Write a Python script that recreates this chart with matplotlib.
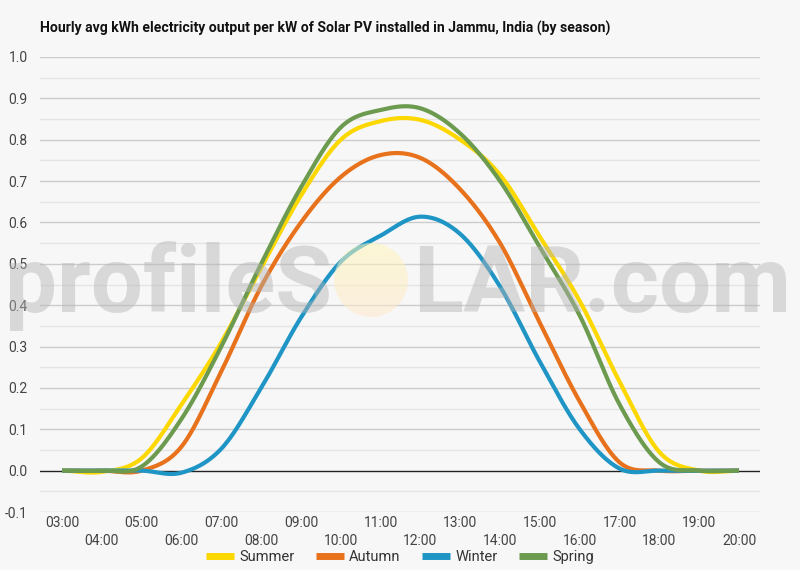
import numpy as np
import matplotlib
matplotlib.use("Agg")
import matplotlib.pyplot as plt
from matplotlib.patches import Circle

hours = list(range(3, 21))
hour_labels = ["%02d:00" % h for h in hours]

summer = [0.0, -0.003, 0.03, 0.16, 0.31, 0.49, 0.665, 0.80, 0.845, 0.848, 0.80, 0.715, 0.565, 0.41, 0.215, 0.045, 0.0, 0.0]
autumn = [0.0, 0.0, 0.0, 0.058, 0.24, 0.445, 0.60, 0.71, 0.763, 0.756, 0.68, 0.55, 0.357, 0.167, 0.02, 0.0, 0.0, 0.0]
winter = [0.0, 0.0, 0.0, -0.005, 0.053, 0.20, 0.37, 0.505, 0.568, 0.614, 0.572, 0.445, 0.263, 0.10, 0.005, 0.0, 0.0, 0.0]
spring = [0.0, 0.0, 0.01, 0.125, 0.30, 0.50, 0.685, 0.83, 0.872, 0.876, 0.815, 0.70, 0.54, 0.375, 0.16, 0.02, 0.0, 0.0]

series = [("Summer", summer, "#fcd700"),
          ("Autumn", autumn, "#e8711c"),
          ("Winter", winter, "#1f95c6"),
          ("Spring", spring, "#6c9a4f")]

title = "Hourly avg kWh electricity output per kW of Solar PV installed in Jammu, India (by season)"
bg = "#f7f7f7"


def spline(x, y, n=30):
	# catmull-rom through the hourly points
	x = np.asarray(x, float)
	y = np.asarray(y, float)
	xp = np.concatenate([[2 * x[0] - x[1]], x, [2 * x[-1] - x[-2]]])
	yp = np.concatenate([[y[0]], y, [y[-1]]])
	xs, ys = [], []
	for i in range(1, len(xp) - 2):
		t = np.linspace(0, 1, n, endpoint=False)
		p0, p1, p2, p3 = yp[i - 1], yp[i], yp[i + 1], yp[i + 2]
		yy = 0.5 * ((2 * p1) + (-p0 + p2) * t + (2 * p0 - 5 * p1 + 4 * p2 - p3) * t ** 2 + (-p0 + 3 * p1 - 3 * p2 + p3) * t ** 3)
		xs.extend(xp[i] + (xp[i + 1] - xp[i]) * t)
		ys.extend(yy)
	xs.append(x[-1])
	ys.append(y[-1])
	return np.array(xs), np.array(ys)


def fit_width(txt, px):
	# shrink/grow font so the text is px pixels wide
	r = fig.canvas.get_renderer()
	w = txt.get_window_extent(renderer=r).width
	txt.set_fontsize(txt.get_fontsize() * px / w)


fig = plt.figure(figsize=(8, 5.7), dpi=100, facecolor=bg)
ax = fig.add_axes([0.05, 1 - 512 / 570.0, 0.9, 455 / 570.0])
ax.set_facecolor(bg)

for name, vals, col in series:
	sx, sy = spline(hours, vals)
	ax.plot(sx, sy, color=col, lw=3, label=name, solid_capstyle="butt", zorder=3)

ax.set_xlim(2.447, 20.527)
ax.set_ylim(-0.1, 1.0)

yt = np.arange(-0.1, 1.001, 0.1)
ax.set_yticks(yt)
ax.set_yticklabels(["%.1f" % v for v in yt])
for v in yt:
	if abs(v) < 1e-9:
		ax.axhline(v, color="#222222", lw=1, zorder=2)
	else:
		ax.axhline(v, color="#cccccc", lw=1, zorder=1)
for v in np.arange(-0.05, 1.0, 0.1):
	ax.axhline(v, color="#e4e4e4", lw=1, zorder=1)

ax.set_xticks(hours[::2])
ax.set_xticklabels(hour_labels[::2])
ax.set_xticks(hours[1::2], minor=True)
ax.set_xticklabels(hour_labels[1::2], minor=True)
ax.tick_params(axis="x", which="major", length=0, pad=3, labelsize=10, labelcolor="#444444")
ax.tick_params(axis="x", which="minor", length=0, pad=16, labelsize=10, labelcolor="#444444")
ax.tick_params(axis="y", which="both", length=0, pad=9, labelsize=10, labelcolor="#444444")
for lab in ax.get_xticklabels(which="both") + ax.get_yticklabels():
	lab.set_family(["Roboto", "DejaVu Sans"])
for sp in ax.spines.values():
	sp.set_visible(False)

# watermark on top of the lines
w1 = fig.text(5 / 800.0, 1 - 312 / 570.0, "profileS", ha="left", va="baseline",
	fontsize=60, fontweight="bold", family=["Roboto", "DejaVu Sans"],
	color="#b4b4b4", alpha=0.45, zorder=10)
w2 = fig.text(413 / 800.0, 1 - 312 / 570.0, "LAR.com", ha="left", va="baseline",
	fontsize=60, fontweight="bold", family=["Roboto", "DejaVu Sans"],
	color="#b4b4b4", alpha=0.45, zorder=10)
fit_width(w1, 327)
fit_width(w2, 378)
wax = fig.add_axes([0, 0, 1, 1], facecolor="none")
wax.set_xlim(0, 800)
wax.set_ylim(570, 0)
wax.axis("off")
grad = np.linspace(0, 1, 100)
cols = np.zeros((100, 1, 4))
cols[:, 0, 0] = 1.0
cols[:, 0, 1] = 0.97 - 0.06 * grad
cols[:, 0, 2] = 0.72 + 0.08 * grad
cols[:, 0, 3] = 0.55
im = wax.imshow(cols, extent=(334, 408, 317, 243), aspect="auto", zorder=5)
circ = Circle((371, 280), 37, transform=wax.transData, facecolor="none", edgecolor="none")
wax.add_patch(circ)
im.set_clip_path(circ)

tt = fig.text(40 / 800.0, 1 - 28 / 570.0, title, ha="left", va="center", fontsize=10,
	fontweight="bold", family=["Roboto", "DejaVu Sans"], color="#111111")
fit_width(tt, 568)

leg = fig.legend(loc="center", bbox_to_anchor=(0.5, 1 - 557 / 570.0), ncol=4, frameon=False,
	handlelength=1.9, columnspacing=1.5, handletextpad=0.35,
	prop={"family": ["Roboto", "DejaVu Sans"], "size": 10.5})
for h in leg.get_lines():
	h.set_linewidth(5)
for t in leg.get_texts():
	t.set_color("#333333")

fig.savefig("out.png", dpi=100, facecolor=bg)
